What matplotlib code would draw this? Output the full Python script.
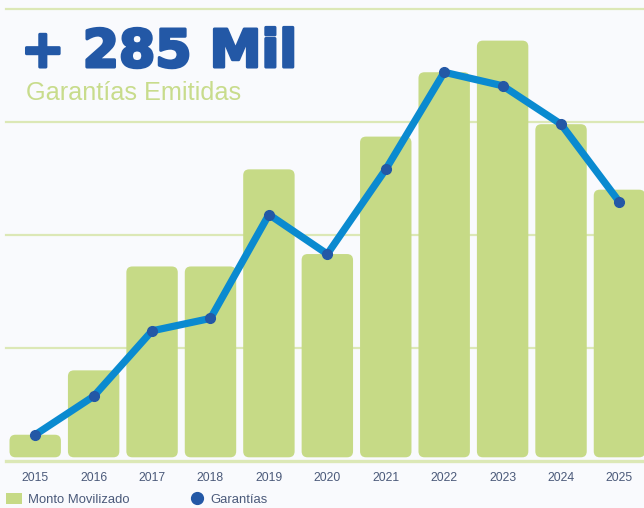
import matplotlib
matplotlib.use("Agg")
import matplotlib.pyplot as plt
import matplotlib.patheffects as pe
from matplotlib.patches import FancyBboxPatch, Patch
from matplotlib.lines import Line2D

# Datos (unidades = una línea de la cuadrícula)
years = ["2015", "2016", "2017", "2018", "2019", "2020",
         "2021", "2022", "2023", "2024", "2025"]
monto = [0.23, 0.80, 1.72, 1.72, 2.58, 1.83, 2.87, 3.44, 3.72, 2.98, 2.40]
garantias = [0.23, 0.57, 1.15, 1.26, 2.18, 1.83, 2.58, 3.44, 3.32, 2.98, 2.29]

bar_color = "#c6da86"
grid_color = "#dce8b6"
line_color = "#0a8ad0"
dot_color = "#2358a6"
tick_color = "#4b5a7a"

fig = plt.figure(figsize=(6.44, 5.08), dpi=100, facecolor="#f9fafd")
ax = fig.add_axes([6 / 644, 47.3 / 508, 638 / 644, 451.7 / 508])
ax.set_facecolor("none")
ax.set_xlim(-0.5, 10.42)
ax.set_ylim(0, 4)

# cuadrícula horizontal
for g in [1, 2, 3, 4]:
    ax.axhline(g, color=grid_color, lw=1.6, zorder=0, clip_on=False)
ax.axhline(0, color=grid_color, lw=2.4, zorder=0, clip_on=False)

# barras con esquinas redondeadas
x = list(range(len(years)))
px_x = ax.get_position().width * fig.get_figwidth() * fig.dpi / (ax.get_xlim()[1] - ax.get_xlim()[0])
px_y = ax.get_position().height * fig.get_figheight() * fig.dpi / (ax.get_ylim()[1] - ax.get_ylim()[0])
radius = 6
width = 0.88
gap = 0.03
for xi, v in zip(x, monto):
    box = FancyBboxPatch((xi - width / 2, gap), width, v - gap,
                         boxstyle=f"round,pad=0,rounding_size={radius / px_x}",
                         mutation_aspect=px_x / px_y,
                         facecolor=bar_color, edgecolor="none", zorder=1)
    ax.add_patch(box)

# línea de garantías
ax.plot(x, garantias, color=line_color, lw=5.2, solid_capstyle="round",
        solid_joinstyle="round", zorder=3)
ax.plot(x, garantias, "o", color=dot_color, ms=7, zorder=4)

ax.set_xticks(x)
ax.set_xticklabels(years, fontsize=8.8, color=tick_color, family="Liberation Sans")
ax.set_yticks([])
ax.tick_params(axis="x", length=0, pad=8)
for s in ax.spines.values():
    s.set_visible(False)

# títulos
fig.text(21 / 644, 1 - 67 / 508, "+ 285 Mil", fontsize=37.5, fontweight="bold",
         family="DejaVu Sans", color=dot_color, va="baseline", ha="left",
         path_effects=[pe.withStroke(linewidth=2.2, foreground=dot_color)])
fig.text(26 / 644, 1 - 99.5 / 508, "Garantías Emitidas", fontsize=18.2,
         family="Liberation Sans", color="#c8dc8c", va="baseline", ha="left")

# leyenda
handles = [Patch(facecolor=bar_color, edgecolor="none"),
           Line2D([], [], marker="o", linestyle="none", ms=8.5, color=dot_color)]
fig.legend(handles, ["Monto Movilizado", "Garantías"], loc="lower left",
           bbox_to_anchor=(6 / 644, 2 / 508), ncol=2, frameon=False,
           prop={"family": "Liberation Sans", "size": 9.4}, labelcolor=tick_color,
           handlelength=1.25, handleheight=1.0, handletextpad=0.4,
           columnspacing=4.6, borderpad=0, borderaxespad=0)

fig.savefig("out.png", dpi=100, facecolor=fig.get_facecolor())
